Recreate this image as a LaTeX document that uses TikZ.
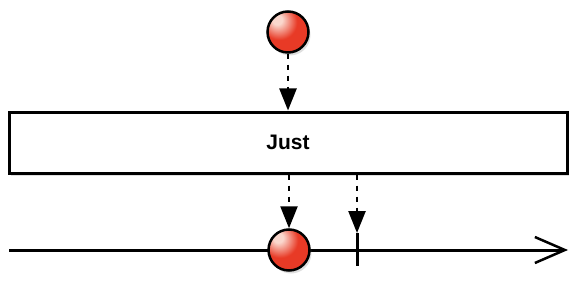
\documentclass[tikz,border=0pt]{standalone}
\usepackage{fontspec}
\setmainfont{Liberation Sans}
\usetikzlibrary{arrows.meta,shadows}
\definecolor{marblered}{RGB}{232,58,38}
\definecolor{marbledark}{RGB}{190,30,20}
\definecolor{marblelight}{RGB}{250,215,205}
\pgfdeclareradialshading{marbleshade}{\pgfpoint{-14bp}{16bp}}{%
  color(0bp)=(marblelight);
  color(6bp)=(marblelight);
  color(22bp)=(marblered);
  color(50bp)=(marblered);
  color(66bp)=(marbledark);
  color(100bp)=(marbledark)}
\tikzset{
  x=1pt,y=-1pt,
  marble/.style={circle,minimum size=41pt,inner sep=0pt,draw=black,line width=2.5pt,
    shading=marbleshade,drop shadow={opacity=0.25,shadow xshift=2pt,shadow yshift=-3pt}},
  opbox/.style={draw=black,line width=3pt,fill=white,minimum width=558pt,minimum height=61pt,
    inner sep=0pt,font=\fontsize{21pt}{24pt}\selectfont\bfseries,
    drop shadow={opacity=0.25,shadow xshift=2pt,shadow yshift=-3pt}},
  emit/.style={line width=2.5pt,dash pattern=on 5pt off 6pt,
    -{Triangle[length=22pt,width=17pt]},shorten >=0pt},
  timeline/.style={line width=3pt,-{Straight Barb[length=30pt,width=26pt,line width=2.5pt]}},
}
\begin{document}
\begin{tikzpicture}
\useasboundingbox (0,0) rectangle (580,286);
% timeline
\coordinate (tlstart) at (9,250);
\coordinate (tlend) at (568,250);
\draw[timeline] (tlstart) -- (tlend);
% completion tick
\coordinate (ticktop) at (357,233);
\coordinate (tickbot) at (357,266);
\draw[line width=3pt] (ticktop) -- (tickbot);
% operator box
\node[opbox] (just) at (288,142.5) {Just};
% marbles
\node[marble] (top) at (288,32) {};
\node[marble] (bot) at (289,250) {};
% arrows
\draw[emit] (top.south) -- (just.north);
\draw[emit] (just.south -| bot) -- (bot.north);
\draw[emit] (just.south -| ticktop) -- (ticktop);
\end{tikzpicture}
\end{document}
